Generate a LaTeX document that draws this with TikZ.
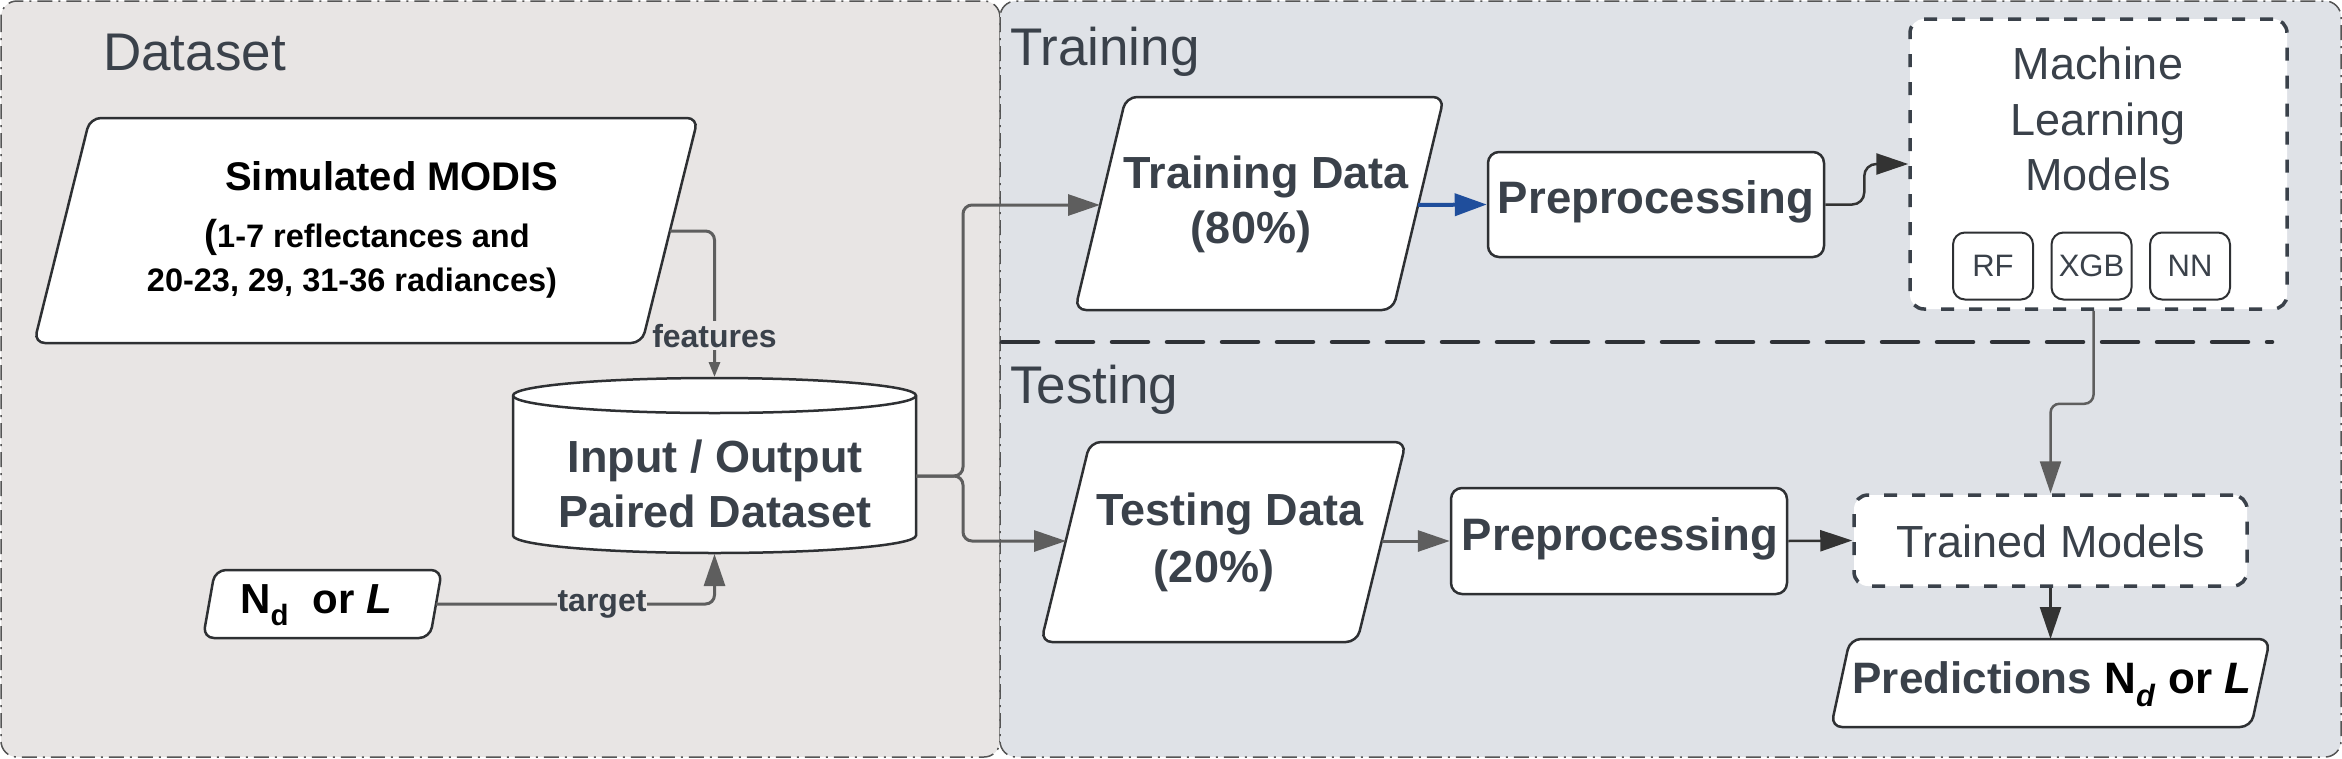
\documentclass[tikz,border=0pt]{standalone}
\usepackage{fontspec}
\setmainfont{Liberation Sans}
\usetikzlibrary{arrows.meta}
\definecolor{lfill}{HTML}{E8E5E4}
\definecolor{rfill}{HTML}{DFE2E7}
\definecolor{txt}{HTML}{3A414A}
\definecolor{edgec}{HTML}{2E3033}
\definecolor{arrg}{HTML}{5E5E5E}
\definecolor{arrd}{HTML}{333333}
\definecolor{arrb}{HTML}{1F4E9C}
\definecolor{panelc}{HTML}{555555}
\definecolor{dashc}{HTML}{2E3136}
\newcommand\myfs[1]{\fontsize{#1}{#1}\selectfont}
\begin{document}
\begin{tikzpicture}[x=1pt,y=-1pt,
  panel/.style={draw=panelc,line width=1.5pt,dash pattern=on 15pt off 6pt on 2pt off 6pt,rounded corners=16pt},
  shapebox/.style={draw=edgec,line width=2.5pt,fill=white,rounded corners=11pt},
  rectbox/.style={shapebox,inner sep=0pt},
  dashbox/.style={draw=txt,line width=3.5pt,fill=white,dash pattern=on 13pt off 15pt,rounded corners=14pt,inner sep=0pt},
  mini/.style={draw=edgec,line width=2pt,fill=white,rounded corners=12pt,inner sep=0pt,minimum width=80pt,minimum height=67pt,text=txt},
  t/.style={inner sep=0pt,text=txt,anchor=base},
  tb/.style={t,text=black},
  garrow/.style={draw=arrg,line width=3pt,rounded corners=9pt,-{Triangle[length=32pt,width=21pt]}},
  garrowsmall/.style={draw=arrg,line width=3pt,rounded corners=9pt,-{Triangle[length=15pt,width=11pt]}},
  darrow/.style={draw=arrd,line width=2.5pt,rounded corners=12pt,-{Triangle[length=32pt,width=21pt]}},
  barrow/.style={draw=arrb,line width=4pt,-{Triangle[length=32pt,width=22pt]}},
  divider/.style={draw=dashc,line width=4.5pt,dash pattern=on 36pt off 19pt,line cap=round},
]
\useasboundingbox (0,0) rectangle (2342,758);
% panels
\draw[panel,fill=lfill] (1,1) rectangle (1000,757);
\draw[panel,fill=rfill] (1000,1) rectangle (2341,757);
\node[t,anchor=base west] (lblData) at (103,70) {\myfs{53}Dataset};
\node[t,anchor=base west] (lblTrain) at (1010,65) {\myfs{53}Training};
\node[t,anchor=base west] (lblTest) at (1010,403) {\myfs{53}Testing};
\draw[divider] (1002,342) -- (2272,342);

% Simulated MODIS
\draw[shapebox] (90,118) -- (698,118) -- (642,343) -- (34,343) -- cycle;
\node[tb] (sim1) at (392,190) {\myfs{40}\bfseries Simulated MODIS};
\node[tb] (sim2) at (367,247) {\bfseries\myfs{39}(\myfs{32.5}1-7 reflectances and};
\node[tb] (sim3) at (352,291) {\bfseries\myfs{32.5}20-23, 29, 31-36 radiances)};
\coordinate (simR) at (670,231);

% Nd or L
\draw[shapebox] (215,570) -- (442,570) -- (430,638) -- (203,638) -- cycle;
\node[tb] (nd) at (316,613) {\bfseries\myfs{42}N\textsubscript{d}\ \ or \textit{L}};
\coordinate (ndR) at (436,604);

% cylinder
\draw[shapebox,rounded corners=0pt] (513,395.5) -- (513,535.5)
  arc[start angle=180,end angle=360,x radius=201.5pt,y radius=17.5pt]
  -- (916,395.5)
  arc[start angle=0,end angle=180,x radius=201.5pt,y radius=17.5pt] -- cycle;
\draw[draw=edgec,line width=2.5pt] (513,395.5) arc[start angle=180,end angle=360,x radius=201.5pt,y radius=17.5pt];
\node[t] (io1) at (715,472) {\bfseries\myfs{45}Input / Output};
\node[t] (io2) at (715,527) {\bfseries\myfs{45}Paired Dataset};
\coordinate (cylT) at (714.5,377);
\coordinate (cylB) at (714.5,554);
\coordinate (cylR) at (916,476);
\coordinate (split) at (963,476);

% Training data
\draw[shapebox] (1126,97) -- (1444,97) -- (1393,310) -- (1075,310) -- cycle;
\node[t] (tr1) at (1266,188) {\bfseries\myfs{45}Training Data};
\node[t] (tr2) at (1251,243) {\bfseries\myfs{45}(80\%)};
\coordinate (trainL) at (1100,205);
\coordinate (trainR) at (1418,205);

\node[rectbox,minimum width=336pt,minimum height=105pt] (pre1) at (1656,204.5) {};
\node[t] (pre1t) at (1656,213) {\bfseries\myfs{45.5}Preprocessing};

% ML models
\node[dashbox,minimum width=377pt,minimum height=290pt] (mlb) at (2098.5,164) {};
\node[t] (ml1) at (2098,79) {\myfs{45}Machine};
\node[t] (ml2) at (2098,135) {\myfs{45}Learning};
\node[t] (ml3) at (2098,190) {\myfs{45}Models};
\node[mini] (rf) at (1993,266) {\myfs{31}RF};
\node[mini] (xgb) at (2091.5,266) {\myfs{31}XGB};
\node[mini] (nn) at (2190,266) {\myfs{31}NN};

% Testing data
\draw[shapebox] (1090,442) -- (1406,442) -- (1357,642) -- (1041,642) -- cycle;
\node[t] (te1) at (1230,525) {\bfseries\myfs{45}Testing Data};
\node[t] (te2) at (1214,582) {\bfseries\myfs{45}(20\%)};
\coordinate (testL) at (1066,541);
\coordinate (testR) at (1382,541);

\node[rectbox,minimum width=336pt,minimum height=106pt] (pre2) at (1619,541) {};
\node[t] (pre2t) at (1620,550) {\bfseries\myfs{45.5}Preprocessing};

\node[dashbox,minimum width=393pt,minimum height=91pt] (tm) at (2050.5,540.5) {};
\node[t] (tmt) at (2051,557) {\myfs{45}Trained Models};

% Predictions
\draw[shapebox] (1850,639) -- (2270,639) -- (2251,727) -- (1831,727) -- cycle;
\node[t] (pred) at (2052,693) {\bfseries\myfs{44}Predictions \textcolor{black}{N\textsubscript{\textit{d}} or \textit{L}}};
\coordinate (predT) at (2050.5,639);

% connectors
\draw[garrowsmall] (simR) -| (cylT);
\node[t,fill=lfill,inner xsep=2pt,inner ysep=3pt] (feat) at (714.5,347) {\bfseries\myfs{32}features};
\draw[garrow] (ndR) -| (cylB);
\node[t,fill=lfill,inner xsep=1pt,inner ysep=2pt] (targ) at (602,611) {\bfseries\myfs{32}target};
\draw[garrow] (cylR) -- (split) |- (trainL);
\draw[garrow] (cylR) -- (split) |- (testL);
\draw[barrow] (trainR) -- (pre1.west);
\draw[darrow] (pre1.east) -- ++(39,0) |- (mlb.west);
\draw[garrow] (testR) -- (pre2.west);
\draw[darrow] (pre2.east) -- (tm.west);
\draw[garrow,line width=2.5pt] ([xshift=-5pt]mlb.south) -- ++(0,93) -| (tm.north);
\draw[darrow] (tm.south) -- (predT);
\end{tikzpicture}
\end{document}
